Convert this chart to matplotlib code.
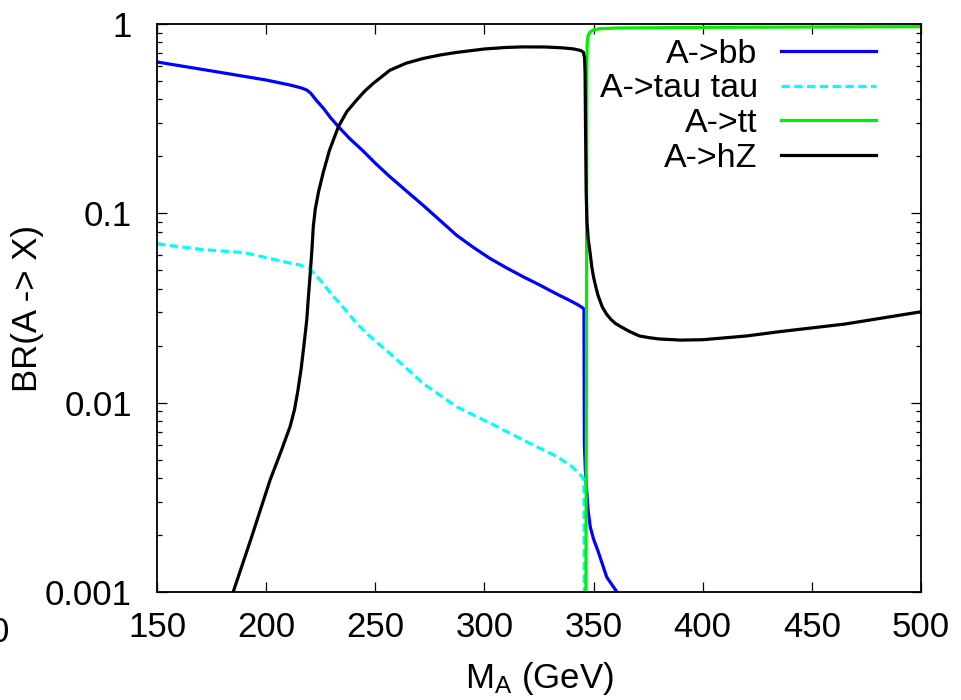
import matplotlib
matplotlib.use("Agg")
import matplotlib.pyplot as plt
from matplotlib.ticker import FixedLocator, FixedFormatter, LogLocator, NullFormatter

plt.rcParams['font.family'] = ['Liberation Sans', 'DejaVu Sans']
plt.rcParams['mathtext.fontset'] = 'custom'
plt.rcParams['mathtext.rm'] = 'Liberation Sans'

# ---- data ----
bb_m = [150, 173, 200, 211, 216, 218.6, 220.5, 223, 226.2, 229.5, 233.1, 238, 244.5, 250, 256.7,
        264, 272, 280, 287.3, 295, 302.5, 310, 317.8, 325, 333.1, 339, 343, 345.3, 345.6,
        345.7, 345.8, 346.2, 346.8, 347.5, 348.5, 350, 352, 356, 360.7, 366]
bb_br = [0.63, 0.57, 0.506, 0.476, 0.46, 0.448, 0.43, 0.395, 0.359, 0.32, 0.287, 0.25, 0.213, 0.184,
         0.156, 0.132, 0.11, 0.091, 0.0765, 0.066, 0.0578, 0.0516, 0.0462, 0.042, 0.0375, 0.0347,
         0.0328, 0.0315, 0.0308, 0.012, 0.006, 0.0045, 0.0035, 0.0027, 0.0022, 0.0019, 0.00165,
         0.0012, 0.001, 0.0008]

tau_m = [150, 170, 190, 208, 215, 220, 225, 230.8, 233.8, 241.5, 246, 256.7, 272, 287.3, 302.5,
         317.8, 333.1, 340, 345.3, 345.6, 345.8]
tau_br = [0.069, 0.0645, 0.062, 0.0555, 0.0535, 0.051, 0.044, 0.0363, 0.0334, 0.0262, 0.0232, 0.0182,
          0.0126, 0.0095, 0.0078, 0.00634, 0.0052, 0.0046, 0.004, 0.0035, 0.0002]

tt_m = [346.3, 346.5, 346.7, 346.8, 346.9, 347.1, 347.5, 348.5, 350, 353, 360, 400, 450, 500]
tt_br = [0.0001, 0.001, 0.01, 0.1, 0.6, 0.8, 0.87, 0.91, 0.93, 0.945, 0.952, 0.96, 0.964, 0.968]

hz_m = [184.9, 193, 201.8, 207, 211, 213, 214.5, 216, 217.5, 218.6, 219.5, 220.3, 221.0, 221.6,
        222.5, 224, 226.2, 229, 233.1, 237, 241.5, 245, 249.1, 256.7, 264, 272, 280, 287.3, 300,
        310, 318, 328, 336, 341, 344, 345.3, 345.9, 346.1, 346.3, 346.6, 347.0, 347.6, 348.4,
        349.2, 350, 351, 352, 354, 356, 358, 360, 363, 366.7, 371, 376, 380, 390, 400, 420, 435,
        465, 500]
hz_br = [0.001, 0.0019, 0.0039, 0.0056, 0.0075, 0.0092, 0.0115, 0.015, 0.021, 0.0273, 0.038, 0.05,
         0.065, 0.085, 0.105, 0.13, 0.165, 0.215, 0.287, 0.345, 0.397, 0.44, 0.486, 0.57, 0.62,
         0.658, 0.687, 0.708, 0.738, 0.752, 0.757, 0.756, 0.748, 0.738, 0.725, 0.71, 0.66, 0.55,
         0.3, 0.13, 0.09, 0.072, 0.062, 0.052, 0.046, 0.041, 0.037, 0.032, 0.0293, 0.0275, 0.0262,
         0.025, 0.0237, 0.0225, 0.022, 0.0217, 0.0214, 0.0215, 0.0225, 0.0237, 0.026, 0.0302]

x_ticks = [150, 200, 250, 300, 350, 400, 450, 500]
y_ticks = [0.001, 0.01, 0.1, 1]
y_tick_labels = ["0.001", "0.01", "0.1", "1"]

# ---- figure ----
fig = plt.figure(figsize=(9.61, 7.0), dpi=100)
ax = fig.add_axes([157 / 961, 108 / 700, 764 / 961, 568 / 700])

lw = 2.3
ax.plot(bb_m, bb_br, color='#0000ff', lw=lw, label='A->bb')
ax.plot(tau_m, tau_br, color='#00ffff', lw=lw, dashes=(2.6, 1.4), label='A->tau tau')
ax.plot(tt_m, tt_br, color='#00ee00', lw=lw, label='A->tt')
ax.plot(hz_m, hz_br, color='black', lw=lw, label='A->hZ')

ax.set_yscale('log')
ax.set_xlim(150, 500)
ax.set_ylim(0.001, 1)

ax.xaxis.set_major_locator(FixedLocator(x_ticks))
ax.yaxis.set_major_locator(FixedLocator(y_ticks))
ax.yaxis.set_major_formatter(FixedFormatter(y_tick_labels))
ax.yaxis.set_minor_locator(LogLocator(base=10, subs=range(2, 10)))
ax.yaxis.set_minor_formatter(NullFormatter())

ax.tick_params(axis='both', which='major', direction='in', length=7, width=0.9,
               top=True, right=True, labelsize=25)
ax.tick_params(axis='y', which='minor', direction='in', length=3.8, width=0.9, right=True)
ax.tick_params(axis='x', which='major', pad=14)
ax.tick_params(axis='y', which='major', pad=18)
for s in ax.spines.values():
    s.set_linewidth(1.3)

ax.set_xlabel(r'$\mathregular{M_A}$ (GeV)', fontsize=25, labelpad=11)
ax.set_ylabel('BR(A -> X)', fontsize=25, labelpad=1)

leg = ax.legend(loc='upper right', frameon=False, markerfirst=False, fontsize=24.5,
                handlelength=2.8, handletextpad=0.68, labelspacing=0.11,
                borderaxespad=0.0, bbox_to_anchor=(0.959, 0.998))

# partially cropped tick label at the far left edge
fig.text(9 / 961, 1 - 632 / 700, "0", ha='right', va='center', fontsize=25)

fig.savefig('out.png', dpi=100)
